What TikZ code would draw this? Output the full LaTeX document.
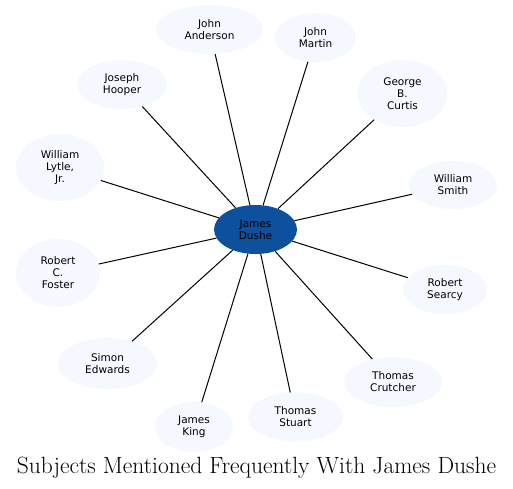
\documentclass[tikz,border=0pt]{standalone}
\usepackage{fontspec}
\newfontfamily\namefont{DejaVu Sans}
\usetikzlibrary{shapes.geometric}
\definecolor{hubblue}{RGB}{12,80,158}
\definecolor{leafblue}{RGB}{245,248,254}

\begin{document}
\begin{tikzpicture}[x=1pt, y=-1pt,
  person/.style={ellipse, fill=leafblue, inner sep=0pt, align=center,
    font=\namefont\fontsize{10.5}{12}\selectfont},
  hub/.style={person, fill=hubblue},
  link/.style={line width=1pt, black}]
\useasboundingbox (0,0) rectangle (513,488);

% centre
\node[hub, minimum width=83pt, minimum height=49pt] (dushe) at (255.5,229.5) {James\\Dushe};

% names round it
\node[person, minimum width=107pt, minimum height=49pt] (anderson) at (209.5,29.5) {John\\Anderson};
\node[person, minimum width=81pt, minimum height=49pt] (martin) at (315.5,37.5) {John\\Martin};
\node[person, minimum width=90pt, minimum height=67pt] (curtis) at (402.5,93.5) {George\\B.\\Curtis};
\node[person, minimum width=88pt, minimum height=48pt] (smith) at (453,185) {William\\Smith};
\node[person, minimum width=84pt, minimum height=49pt] (searcy) at (445,289.5) {Robert\\Searcy};
\node[person, minimum width=98pt, minimum height=50pt] (crutcher) at (393,382) {Thomas\\Crutcher};
\node[person, minimum width=95pt, minimum height=49pt] (stuart) at (295.5,417) {Thomas\\Stuart};
\node[person, minimum width=78pt, minimum height=50pt] (king) at (194,427) {James\\King};
\node[person, minimum width=99pt, minimum height=51pt] (edwards) at (107.5,363.5) {Simon\\Edwards};
\node[person, minimum width=84pt, minimum height=68pt] (foster) at (58,273) {Robert\\C.\\Foster};
\node[person, minimum width=88pt, minimum height=67pt] (lytle) at (60,167.5) {William\\Lytle,\\Jr.};
\node[person, minimum width=90pt, minimum height=49pt] (hooper) at (122,84.5) {Joseph\\Hooper};

\foreach \who in {anderson, martin, curtis, smith, searcy, crutcher,
                  stuart, king, edwards, foster, lytle, hooper}
  \draw[link] (dushe) -- (\who);

\node[font=\fontsize{23.5}{28}\selectfont, anchor=base, inner sep=0pt] (title) at (256.5,473) {Subjects Mentioned Frequently With James Dushe};
\end{tikzpicture}
\end{document}
